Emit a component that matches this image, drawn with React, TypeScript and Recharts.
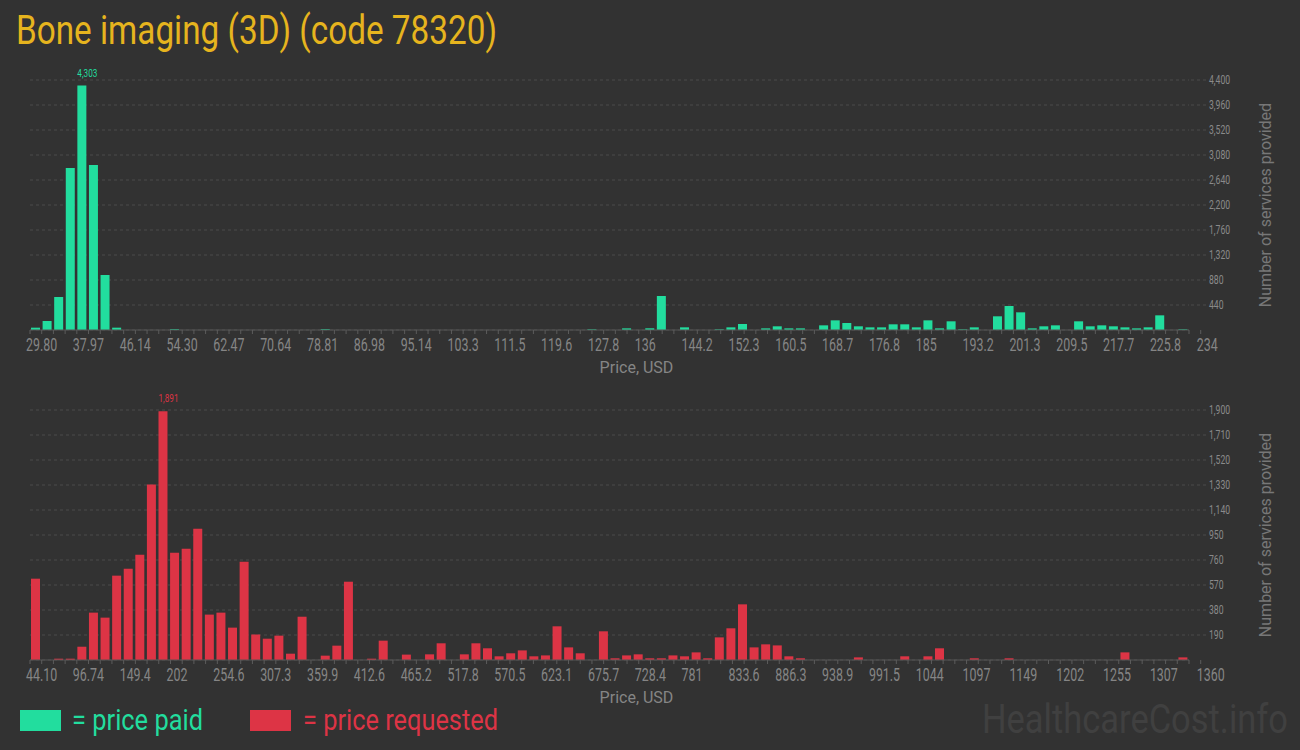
import React from 'react';
import { BarChart, Bar, XAxis, YAxis, CartesianGrid, LabelList, Label } from 'recharts';

const BG = '#323232';
const GREEN = '#22DD9E';
const RED = '#DD3445';
const TITLE_COLOR = '#E6B41E';
const AXIS_TEXT = '#858585';
const SANS = "Roboto, 'Noto Sans', sans-serif";

const paidTickLabels = ['29.80', '37.97', '46.14', '54.30', '62.47', '70.64', '78.81', '86.98', '95.14', '103.3', '111.5', '119.6', '127.8', '136', '144.2', '152.3', '160.5', '168.7', '176.8', '185', '193.2', '201.3', '209.5', '217.7', '225.8', '234'];
const paidValues = [
  41, 158, 581, 2851, 4303, 2904, 968, 41, 0, 0,
  0, 0, 15, 0, 0, 0, 0, 0, 0, 0,
  0, 0, 0, 0, 0, 15, 0, 0, 0, 0,
  0, 0, 0, 0, 0, 0, 0, 0, 0, 0,
  0, 0, 0, 0, 0, 0, 0, 0, 12, 0,
  0, 29, 0, 30, 598, 0, 47, 0, 0, 12,
  47, 106, 0, 29, 65, 29, 29, 0, 82, 170,
  123, 65, 47, 47, 100, 100, 47, 170, 29, 153,
  12, 47, 0, 241, 422, 311, 29, 65, 82, 0,
  153, 65, 82, 65, 47, 29, 47, 258, 0, 12,
];
const paidYTicks = [440, 880, 1320, 1760, 2200, 2640, 3080, 3520, 3960, 4400];

const requestedTickLabels = ['44.10', '96.74', '149.4', '202', '254.6', '307.3', '359.9', '412.6', '465.2', '517.8', '570.5', '623.1', '675.7', '728.4', '781', '833.6', '886.3', '938.9', '991.5', '1044', '1097', '1149', '1202', '1255', '1307', '1360'];
const requestedValues = [
  618, 0, 10, 10, 101, 360, 322, 641, 694, 800,
  1333, 1891, 816, 846, 998, 345, 360, 246, 747, 193,
  162, 185, 48, 329, 0, 33, 109, 595, 0, 10,
  147, 0, 41, 0, 43, 127, 0, 43, 127, 89,
  28, 51, 73, 28, 35, 256, 96, 51, 0, 218,
  13, 35, 43, 13, 13, 35, 28, 58, 13, 172,
  241, 423, 96, 119, 111, 28, 13, 0, 0, 0,
  0, 20, 0, 0, 0, 28, 0, 28, 89, 0,
  0, 13, 0, 0, 13, 0, 0, 0, 0, 0,
  0, 0, 0, 0, 58, 0, 0, 0, 0, 20,
];
const requestedYTicks = [190, 380, 570, 760, 950, 1140, 1330, 1520, 1710, 1900];

const fmt = (v: number) => v.toLocaleString('en-US');

// Condensed-looking text: Roboto squeezed horizontally
function CondText(props: { x: number; y: number; sx: number; size: number; fill: string; anchor?: string; children: React.ReactNode }) {
  const { x, y, sx, size, fill, anchor, children } = props;
  return (
    <text transform={`translate(${x} ${y}) scale(${sx} 1)`} x={0} y={0} textAnchor={anchor || 'start'} fill={fill} fontSize={size} fontFamily={SANS}>
      {children}
    </text>
  );
}

function makeXTick(labels: string[]) {
  return (props: any) => {
    const { x, y, payload } = props;
    const i = payload.value;
    if (i % 4 !== 0) return <g />;
    const label = labels[i / 4];
    return (
      <CondText x={Number(x) - 4} y={Number(y) + 13} sx={0.69} size={18} fill={AXIS_TEXT}>
        {label}
      </CondText>
    );
  };
}

const YTick = (props: any) => {
  const { x, y, payload } = props;
  return (
    <CondText x={Number(x)} y={Number(y) + 4} sx={0.72} size={12} fill="#8a8a8a">
      {fmt(payload.value)}
    </CondText>
  );
};

function makePeakLabel(values: number[], color: string) {
  const max = Math.max(...values);
  return (props: any) => {
    const { x, y, value } = props;
    if (value !== max) return null;
    return (
      <CondText x={Number(x)} y={Number(y) - 9} sx={0.78} size={10.5} fill={color}>
        {fmt(value)}
      </CondText>
    );
  };
}

const XLabel = (props: any) => {
  const vb = props.viewBox;
  return (
    <text x={vb.x + vb.width / 2 + 27} y={vb.y + 43} textAnchor="middle" fill={AXIS_TEXT} fontSize={16} fontFamily={SANS}>
      Price, USD
    </text>
  );
};

const YLabel = (props: any) => {
  const vb = props.viewBox;
  const cx = vb.x + 76;
  const cy = vb.y + vb.height / 2;
  return (
    <text x={cx} y={cy} transform={`rotate(-90 ${cx} ${cy})`} textAnchor="middle" dominantBaseline="central" fill="#777777" fontSize={16} fontFamily={SANS}>
      Number of services provided
    </text>
  );
};

const binTicks = Array.from({ length: 101 }, (_, i) => i);

function Histogram(props: { values: number[]; labels: string[]; yTicks: number[]; color: string }) {
  const { values, labels, yTicks, color } = props;
  const data = values.map((v, i) => ({ bin: i, v }));
  const yMax = yTicks[yTicks.length - 1];
  return (
    <BarChart width={1300} height={320} data={data} margin={{ top: 20, right: 21, left: 30, bottom: 0 }}>
      <CartesianGrid xAxisId="num" vertical={false} stroke="#4a4a4a" strokeDasharray="3 3" />
      <XAxis
        xAxisId="num"
        type="number"
        domain={[0, 100]}
        allowDataOverflow
        ticks={binTicks}
        interval={0}
        height={50}
        axisLine={{ stroke: '#555555' }}
        tickLine={{ stroke: '#5c5c5c' }}
        tickSize={4}
        tickMargin={4}
        tick={makeXTick(labels)}
        label={<Label content={XLabel} />}
      />
      <XAxis xAxisId="cat" dataKey="bin" hide height={0} />
      <YAxis
        orientation="right"
        width={90}
        domain={[0, yMax]}
        ticks={yTicks}
        interval={0}
        axisLine={false}
        tickLine={{ stroke: '#4a4a4a', strokeDasharray: '3 3' }}
        tickSize={17}
        tickMargin={3}
        tick={YTick}
        label={<Label content={YLabel} />}
      />
      <Bar xAxisId="cat" dataKey="v" fill={color} barSize={9} isAnimationActive={false}>
        <LabelList dataKey="v" content={makePeakLabel(values, color)} />
      </Bar>
    </BarChart>
  );
}

export default function App() {
  return (
    <div style={{ position: 'absolute', left: 0, top: 0, width: 1300, height: 750, background: BG, overflow: 'hidden' }}>
      <svg width={1300} height={750} style={{ position: 'absolute', left: 0, top: 0 }}>
        <text x={16} y={44} fill={TITLE_COLOR} fontSize={41} fontFamily={SANS} textLength={481} lengthAdjust="spacingAndGlyphs">
          Bone imaging (3D) (code 78320)
        </text>
        <rect x={20} y={710} width={41} height={21} fill={GREEN} />
        <text x={72} y={730} fill={GREEN} fontSize={29} fontFamily={SANS} textLength={131} lengthAdjust="spacingAndGlyphs">
          = price paid
        </text>
        <rect x={250} y={710} width={41} height={21} fill={RED} />
        <text x={303} y={730} fill={RED} fontSize={29} fontFamily={SANS} textLength={195} lengthAdjust="spacingAndGlyphs">
          = price requested
        </text>
        <text x={982} y={733} fill="#404040" fontSize={40} fontFamily={SANS} textLength={306} lengthAdjust="spacingAndGlyphs">
          HealthcareCost.info
        </text>
      </svg>
      <div style={{ position: 'absolute', left: 0, top: 60 }}>
        <Histogram values={paidValues} labels={paidTickLabels} yTicks={paidYTicks} color={GREEN} />
      </div>
      <div style={{ position: 'absolute', left: 0, top: 390 }}>
        <Histogram values={requestedValues} labels={requestedTickLabels} yTicks={requestedYTicks} color={RED} />
      </div>
    </div>
  );
}
